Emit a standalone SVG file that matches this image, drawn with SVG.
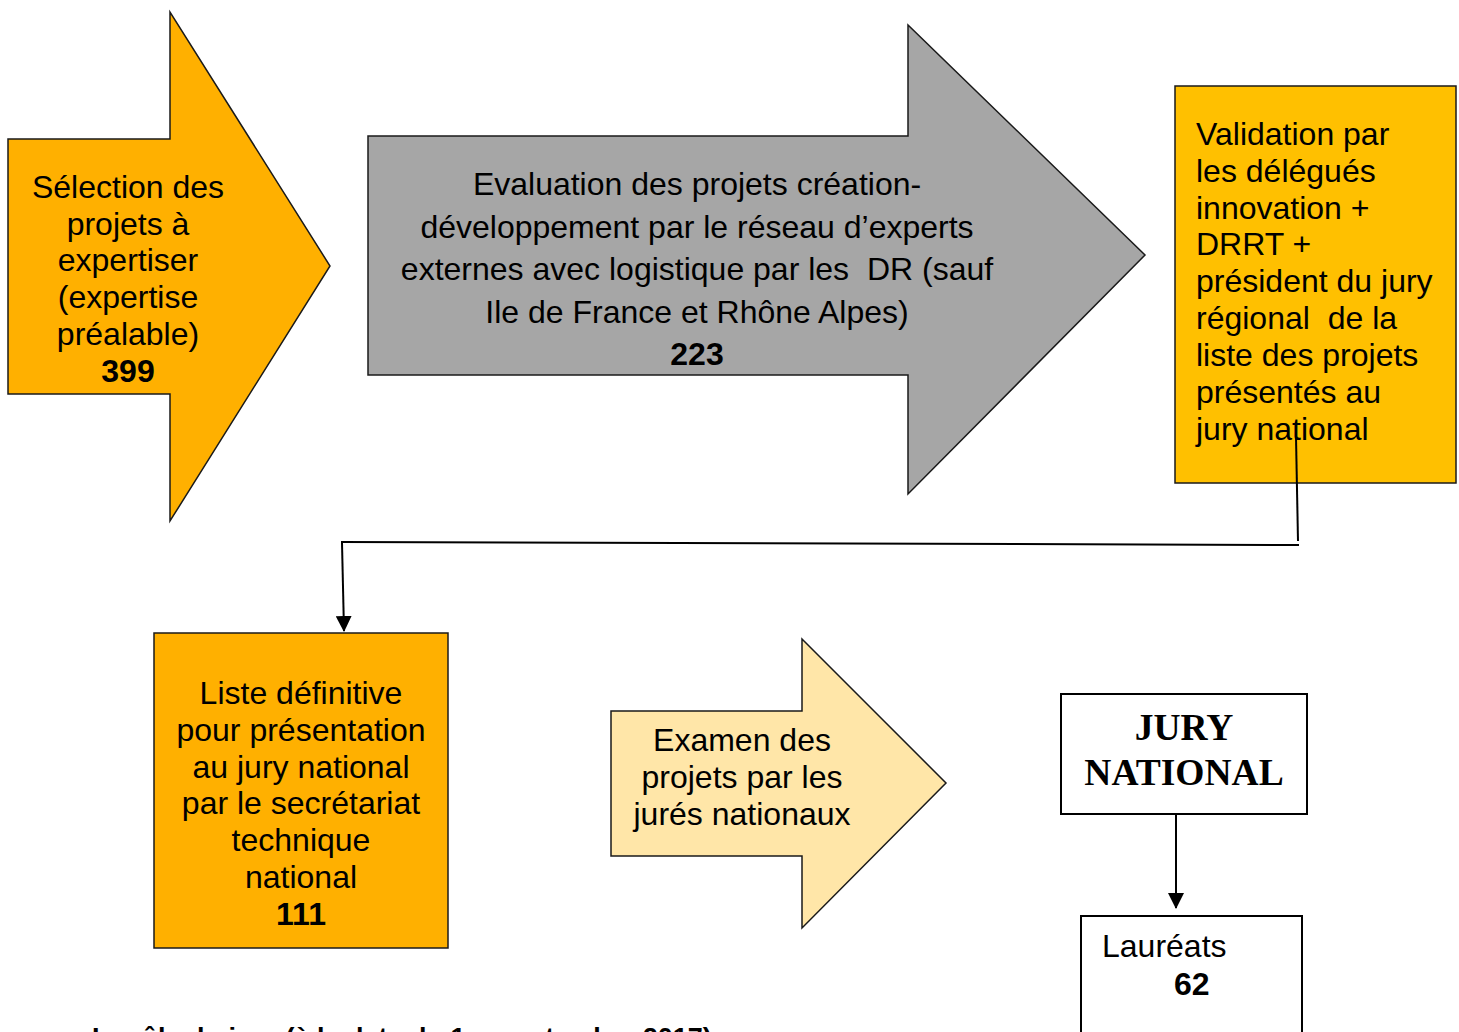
<svg xmlns="http://www.w3.org/2000/svg" width="1459" height="1032" viewBox="0 0 1459 1032">
<style>
.t{font-family:"Liberation Sans",Arial,sans-serif;font-size:32px;fill:#000}
.c{text-anchor:middle}
.b{font-weight:bold}
.shp{stroke:#1a1a1a;stroke-width:1.5}
.conn{stroke:#000;stroke-width:2;fill:none}
.jury{font-family:"Liberation Serif","Times New Roman",serif;font-size:37.5px;font-weight:bold;text-anchor:middle}
</style>
<defs>
<marker id="ah2" viewBox="0 0 16 16" refX="15" refY="8" markerWidth="16" markerHeight="16" orient="auto" markerUnits="userSpaceOnUse">
<path d="M0,0 L16,8 L0,16 z" fill="#000"/>
</marker>
</defs>
<rect width="1459" height="1032" fill="#fff"/>

<g id="selection">
<polygon class="shp" fill="#FFB000" points="8,139 170,139 170,12 330,266 170,521 170,394 8,394"/>
<text class="t c" x="128" y="198">Sélection des</text>
<text class="t c" x="128" y="235">projets à</text>
<text class="t c" x="128" y="271">expertiser</text>
<text class="t c" x="128" y="308">(expertise</text>
<text class="t c" x="128" y="345">préalable)</text>
<text class="t c b" x="128" y="382">399</text>
</g>

<g id="evaluation">
<polygon class="shp" fill="#A6A6A6" points="368,136 908,136 908,25 1145,255 908,494 908,375 368,375"/>
<text class="t c" x="697" y="195">Evaluation des projets création-</text>
<text class="t c" x="697" y="238">développement par le réseau d’experts</text>
<text class="t c" x="697" y="280" xml:space="preserve">externes avec logistique par les  DR (sauf</text>
<text class="t c" x="697" y="323">Ile de France et Rhône Alpes)</text>
<text class="t c b" x="697" y="365">223</text>
</g>

<g id="validation">
<rect class="shp" fill="#FFC000" x="1175" y="86" width="281" height="397"/>
<text class="t" x="1196" y="145">Validation par</text>
<text class="t" x="1196" y="182">les délégués</text>
<text class="t" x="1196" y="219">innovation +</text>
<text class="t" x="1196" y="255">DRRT +</text>
<text class="t" x="1196" y="292">président du jury</text>
<text class="t" x="1196" y="329" xml:space="preserve">régional  de la</text>
<text class="t" x="1196" y="366">liste des projets</text>
<text class="t" x="1196" y="403">présentés au</text>
<text class="t" x="1196" y="440">jury national</text>
</g>

<g id="liste">
<rect class="shp" fill="#FFB000" x="154" y="633" width="294" height="315"/>
<text class="t c" x="301" y="704">Liste définitive</text>
<text class="t c" x="301" y="741">pour présentation</text>
<text class="t c" x="301" y="778">au jury national</text>
<text class="t c" x="301" y="814">par le secrétariat</text>
<text class="t c" x="301" y="851">technique</text>
<text class="t c" x="301" y="888">national</text>
<text class="t c b" x="301" y="925">111</text>
</g>

<g id="examen">
<polygon class="shp" fill="#FFE6A8" points="611,711 802,711 802,639 946,783 802,928 802,856 611,856"/>
<text class="t c" x="742" y="751">Examen des</text>
<text class="t c" x="742" y="788">projets par les</text>
<text class="t c" x="742" y="825">jurés nationaux</text>
</g>

<g id="jury">
<rect x="1061" y="694" width="246" height="120" fill="#fff" stroke="#000" stroke-width="2"/>
<text class="jury" x="1184" y="740">JURY</text>
<text class="jury" x="1184" y="785">NATIONAL</text>
</g>

<g id="laureats">
<rect x="1081" y="916" width="221" height="130" fill="#fff" stroke="#000" stroke-width="2"/>
<text class="t" x="1102" y="957">Lauréats</text>
<text class="t b" x="1174" y="995">62</text>
</g>

<g id="connectors">
<polyline class="conn" points="1296,437 1298,541"/>
<polyline class="conn" points="1299,545 341,542"/>
<line class="conn" x1="342" y1="543" x2="344" y2="631" marker-end="url(#ah2)"/>
<line class="conn" x1="1176" y1="815" x2="1176" y2="908" marker-end="url(#ah2)"/>
</g>

<text class="t b" x="92" y="1047" style="font-size:27px">Le rôle du jury (à la date du 1er septembre 2017)</text>
</svg>
